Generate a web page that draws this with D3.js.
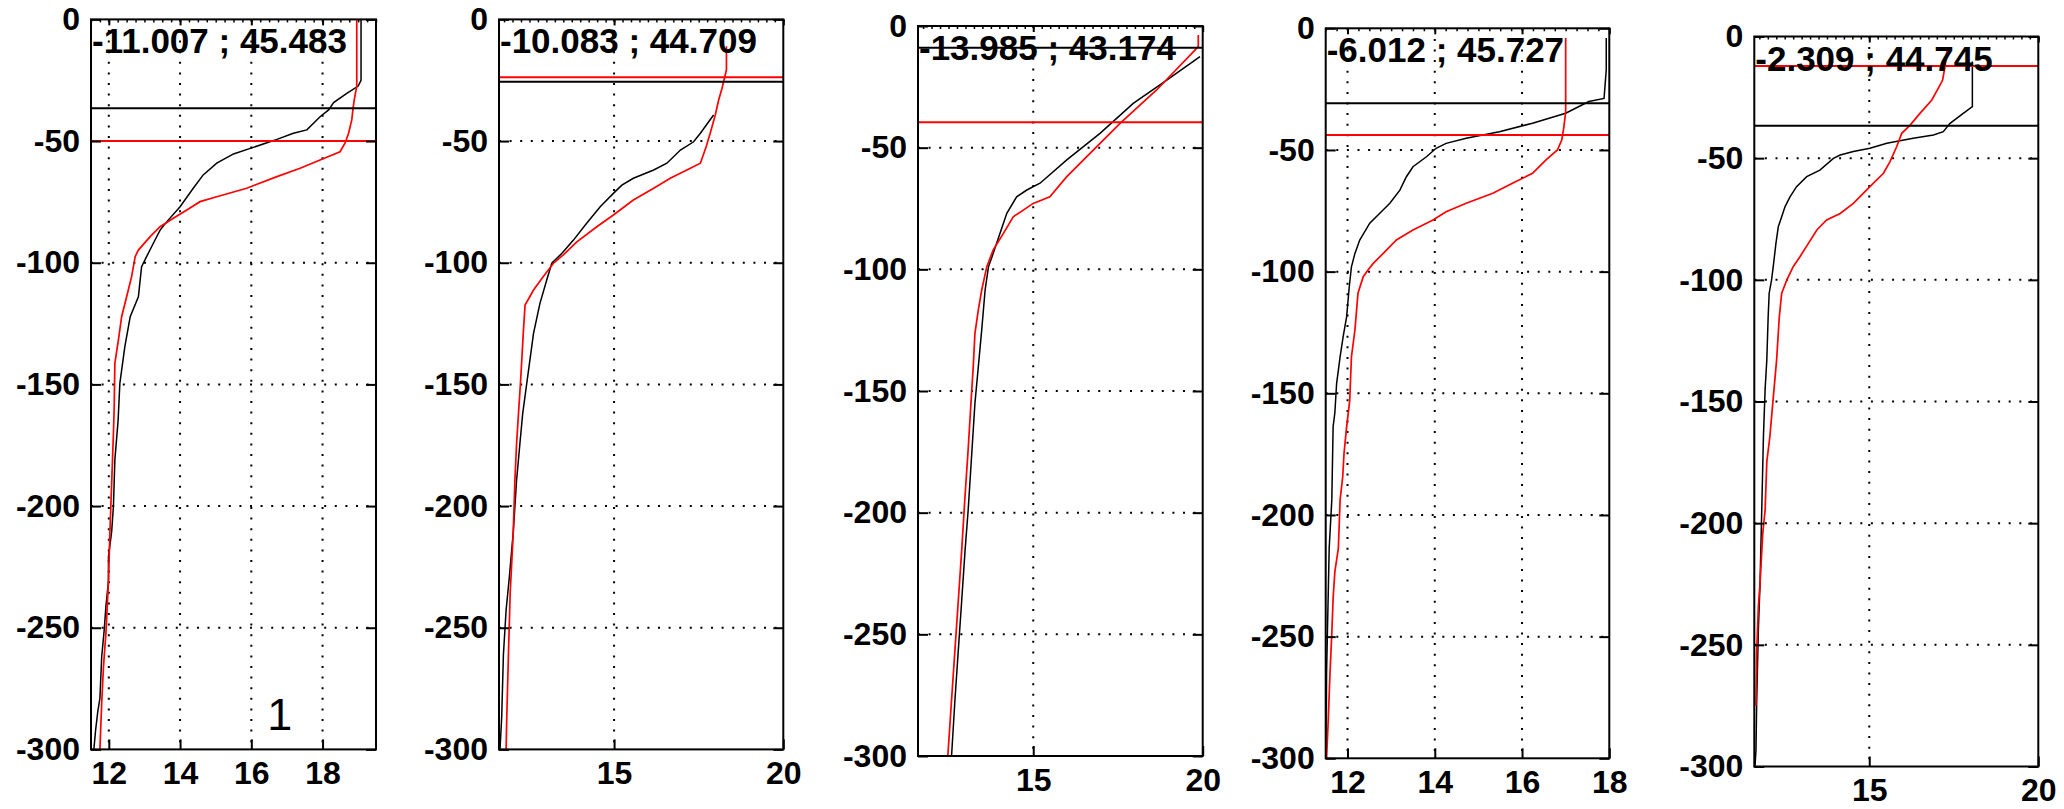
<!DOCTYPE html>
<html>
<head>
<meta charset="utf-8">
<script src="https://cdn.jsdelivr.net/npm/d3@7"></script>
<style>
  html, body { margin: 0; padding: 0; background: #fff; }
  svg { display: block; }
</style>
</head>
<body>
<svg id="chart" width="2064" height="809"></svg>
<script>
// ---------------- DATA ----------------
const labels = ["-11.007 ; 45.483", "-10.083 ; 44.709", "-13.985 ; 43.174", "-6.012 ; 45.727", "-2.309 ; 44.745"];
const xDomains = [[11.5, 19.5], [11.6, 20], [11.6, 20], [11.5, 18], [11.6, 20]];
const xTicks = [[12, 14, 16, 18], [15, 20], [15, 20], [12, 14, 16, 18], [15, 20]];
const yTicks = [0, -50, -100, -150, -200, -250, -300];
const mldBlack = [-36.5, -25.6, -8.9, -30.8, -36.7];
const mldRed = [-50, -23.8, -39.6, -43.8, -12.1];

// temperature, depth
const p1Black = [[19.08,0],[19.08,-25],[19.0,-27.4],[18.68,-30.4],[18.31,-34.2],[18.17,-37.2],[17.93,-40],[17.56,-45.4],[17.18,-46.8],[16.72,-49.3],[16.44,-50.7],[15.97,-53],[15.5,-55.3],[15.03,-59.1],[14.65,-63.9],[14.37,-69.4],[14.0,-77],[13.63,-83.1],[13.44,-86.6],[13.25,-92],[13.06,-97.5],[12.92,-101.6],[12.83,-114],[12.6,-122.2],[12.45,-134.5],[12.31,-149.6],[12.26,-165],[12.17,-181],[12.13,-200],[12.08,-210.5],[11.99,-220.8],[11.99,-231],[11.92,-241],[11.87,-251],[11.80,-262],[11.75,-279],[11.69,-284.5],[11.63,-292],[11.58,-300]];
const p1Red = [[18.96,0],[18.96,-27.4],[18.89,-33],[18.85,-37.2],[18.82,-41.3],[18.73,-46.8],[18.63,-50.9],[18.49,-54.4],[17.93,-57.8],[17.37,-61.2],[16.72,-64.6],[15.87,-69.4],[15.03,-72.9],[14.56,-74.9],[14.19,-78.3],[13.81,-81.7],[13.44,-85.2],[13.16,-89.3],[12.83,-94.8],[12.74,-97.5],[12.64,-105.7],[12.5,-114],[12.36,-122.2],[12.27,-131.7],[12.17,-141.3],[12.15,-160],[12.13,-170],[12.08,-190.6],[12.03,-211],[11.99,-231],[11.92,-252],[11.85,-266],[11.8,-281],[11.75,-300]];
const p2Black = [[17.94,-39.3],[17.55,-46.8],[17.35,-50.3],[16.96,-53.7],[16.56,-59.1],[16.17,-61.9],[15.57,-65.3],[15.23,-68.1],[14.98,-71.5],[14.59,-77],[14.19,-83.8],[13.8,-90.7],[13.46,-96.1],[13.16,-100.2],[13.01,-107.1],[12.81,-116.7],[12.62,-129],[12.42,-149.6],[12.3,-162],[12.22,-174],[12.12,-189.3],[12.02,-211],[11.9,-230],[11.81,-242.7],[11.73,-261.2],[11.68,-286.6],[11.63,-300]];
const p2Red = [[18.32,-11],[18.32,-20.8],[18.19,-28.3],[18.09,-33.1],[17.99,-39.3],[17.84,-46.8],[17.72,-52.3],[17.55,-59.1],[17.15,-61.9],[16.66,-65.3],[16.17,-69.4],[15.57,-74.2],[14.98,-80.4],[14.49,-85.2],[13.9,-91.4],[13.5,-96.8],[13.21,-100.2],[12.91,-105.7],[12.62,-111.2],[12.37,-117.4],[12.32,-128.3],[12.24,-148.2],[12.17,-163.3],[12.12,-174.2],[12.07,-189.3],[12.02,-211.2],[11.98,-222.2],[11.93,-235.9],[11.88,-260.5],[11.83,-286.6],[11.81,-300]];
const p3Black = [[19.92,-12.6],[18.94,-22.2],[17.95,-31.8],[16.97,-44.1],[15.99,-55],[15.2,-64.6],[14.81,-67.4],[14.51,-70.2],[14.22,-77],[14.02,-85.2],[13.82,-93.4],[13.68,-98.9],[13.58,-108.5],[13.48,-124.9],[13.38,-140],[13.28,-155],[13.18,-177],[13.08,-199],[12.99,-215.3],[12.89,-236],[12.79,-256.4],[12.69,-277],[12.59,-300]];
const p3Red = [[19.87,-3.7],[19.87,-8.5],[18.64,-26.3],[17.56,-40],[16.97,-48.2],[15.99,-61.9],[15.49,-70.2],[15.0,-72.9],[14.41,-78.4],[14.12,-85.2],[13.82,-92],[13.63,-98.9],[13.48,-108.5],[13.38,-116.7],[13.28,-126.3],[13.23,-140],[13.18,-151],[13.08,-174],[12.98,-194.8],[12.89,-215.3],[12.79,-236],[12.69,-256.4],[12.59,-277],[12.48,-300]];
const p4Black = [[17.93,-4],[17.93,-17.1],[17.88,-28.8],[17.53,-30.1],[17.0,-34.9],[16.24,-39],[15.48,-42.5],[14.72,-45.2],[14.26,-47.3],[14.03,-49.3],[13.81,-52.8],[13.5,-56.9],[13.35,-61],[13.2,-66.5],[12.97,-71.9],[12.74,-76],[12.51,-80.1],[12.28,-87],[12.17,-92.5],[12.09,-98],[12.04,-106.2],[11.98,-118.5],[11.9,-126.7],[11.83,-135],[11.75,-146],[11.71,-158],[11.67,-163.7],[11.64,-193.8],[11.58,-213.7],[11.52,-265],[11.51,-300]];
const p4Red = [[17.0,-4],[17.0,-34.3],[16.96,-40.4],[16.91,-45.9],[16.81,-50],[16.55,-54.1],[16.24,-59.6],[15.86,-63],[15.33,-67.8],[14.72,-71.9],[14.26,-75.4],[13.96,-78.8],[13.5,-82.9],[13.12,-87],[12.82,-92.5],[12.59,-96.6],[12.47,-99.3],[12.36,-102.1],[12.24,-108.9],[12.17,-124],[12.09,-135],[12.05,-153],[11.98,-163.7],[11.92,-174.7],[11.89,-184.3],[11.83,-193.8],[11.79,-213.7],[11.71,-223.3],[11.67,-234.2],[11.64,-248.6],[11.6,-264.4],[11.56,-283.6],[11.52,-300]];
const p5Black = [[18.05,-10.3],[18.05,-28.8],[17.78,-31.6],[17.39,-35.7],[17.19,-39.1],[16.9,-40.5],[16.3,-41.8],[15.52,-43.9],[15.02,-45.9],[14.53,-47.3],[14.14,-48.7],[13.94,-50.1],[13.54,-54.9],[13.15,-57.6],[12.85,-61.7],[12.66,-65.8],[12.51,-69.9],[12.41,-74.1],[12.31,-78.2],[12.24,-85],[12.16,-94.6],[12.11,-100.1],[12.04,-105.5],[12.01,-115.2],[11.97,-132.9],[11.92,-145],[11.87,-164.5],[11.82,-194.6],[11.77,-224.7],[11.72,-243.9],[11.67,-274],[11.65,-293.2],[11.62,-300]];
const p5Red = [[17.3,-5.5],[17.24,-12.4],[17.17,-17.9],[17.04,-21.3],[16.85,-26.1],[16.5,-31.6],[16.21,-36.4],[15.96,-39.8],[15.81,-45.3],[15.61,-51.5],[15.42,-56.2],[15.02,-61.7],[14.53,-68.6],[14.14,-72.7],[13.74,-75.4],[13.45,-79.5],[13.2,-85],[12.95,-90.5],[12.75,-94.6],[12.56,-100.1],[12.41,-105.5],[12.34,-115.2],[12.26,-132.9],[12.17,-147],[12.06,-164.5],[11.97,-174.7],[11.92,-194.6],[11.85,-204.2],[11.77,-224.7],[11.72,-234.3],[11.67,-253.5],[11.65,-275]];

const blackSeries = [p1Black, p2Black, p3Black, p4Black, p5Black];
const redSeries = [p1Red, p2Red, p3Red, p4Red, p5Red];
const panelNote = {panel: 0, text: "1", t: 16.8, d: -292};

// ---------------- LAYOUT ----------------
const layout = [
  {L: 91,     R: 376,    T: 19.4, B: 749.4},
  {L: 499,    R: 783.3,  T: 19.4, B: 749.4},
  {L: 918,    R: 1202.7, T: 26,   B: 756},
  {L: 1325.7, R: 1609.3, T: 28.3, B: 758.3},
  {L: 1754.3, R: 2038.3, T: 36.5, B: 766.5}
];

const FONT = "'Liberation Sans', Arial, Helvetica, sans-serif";
const fmt = d => String(d);   // plain hyphen-minus like the original
const svg = d3.select("#chart");

layout.forEach((p, i) => {
  const x = d3.scaleLinear().domain(xDomains[i]).range([p.L, p.R]);
  const y = d3.scaleLinear().domain([-300, 0]).range([p.B, p.T]);
  const g = svg.append("g");

  // grid (dotted)
  const [x0, x1] = xDomains[i];
  g.selectAll(".hgrid").data(yTicks.filter(t => t > -300 && t < 0)).enter()
    .append("line")
    .attr("x1", p.L).attr("x2", p.R)
    .attr("y1", d => y(d)).attr("y2", d => y(d))
    .attr("stroke", "#000").attr("stroke-width", 2)
    .attr("stroke-dasharray", "2 8.6");
  g.selectAll(".vgrid").data(xTicks[i].filter(t => t > x0 && t < x1)).enter()
    .append("line")
    .attr("x1", d => x(d)).attr("x2", d => x(d))
    .attr("y1", p.T).attr("y2", p.B)
    .attr("stroke", "#000").attr("stroke-width", 2)
    .attr("stroke-dasharray", "2 8.6");

  const line = d3.line().x(d => x(d[0])).y(d => y(d[1]));

  // profiles
  g.append("path").datum(blackSeries[i]).attr("d", line)
    .attr("fill", "none").attr("stroke", "#000").attr("stroke-width", 1.5);
  g.append("path").datum(redSeries[i]).attr("d", line)
    .attr("fill", "none").attr("stroke", "#ff0000").attr("stroke-width", 1.7);

  // mixed-layer lines
  g.append("line").attr("x1", p.L).attr("x2", p.R)
    .attr("y1", y(mldBlack[i])).attr("y2", y(mldBlack[i]))
    .attr("stroke", "#000").attr("stroke-width", 2);
  g.append("line").attr("x1", p.L).attr("x2", p.R)
    .attr("y1", y(mldRed[i])).attr("y2", y(mldRed[i]))
    .attr("stroke", "#ff0000").attr("stroke-width", 2);

  // title label inside box
  g.append("text")
    .attr("x", p.L + 1).attr("y", y(0) + 34)
    .attr("font-family", FONT).attr("font-size", 35).attr("font-weight", "bold")
    .attr("fill", "#000")
    .text(labels[i]);

  if (panelNote.panel === i) {
    g.append("text")
      .attr("x", x(panelNote.t)).attr("y", y(panelNote.d))
      .attr("text-anchor", "middle")
      .attr("font-family", FONT).attr("font-size", 45)
      .attr("fill", "#000")
      .text(panelNote.text);
  }

  // axes
  const styleAxis = sel => {
    sel.select(".domain").remove();
    sel.selectAll(".tick line").attr("stroke", "#000").attr("stroke-width", 2);
    sel.selectAll("text").attr("font-family", FONT).attr("font-size", 32)
      .attr("font-weight", "bold").attr("fill", "#000");
  };
  g.append("g").attr("transform", `translate(${p.L},0)`)
    .call(d3.axisLeft(y).tickValues(yTicks).tickSize(-10).tickPadding(11).tickFormat(fmt))
    .call(styleAxis);
  g.append("g").attr("transform", `translate(${p.R},0)`)
    .call(d3.axisRight(y).tickValues(yTicks).tickSize(-10).tickFormat(""))
    .call(styleAxis);
  g.append("g").attr("transform", `translate(0,${p.B})`)
    .call(d3.axisBottom(x).tickValues(xTicks[i]).tickSize(-10).tickPadding(12).tickFormat(fmt))
    .call(styleAxis);
  g.append("g").attr("transform", `translate(0,${p.T})`)
    .call(d3.axisTop(x).tickValues(xTicks[i]).tickSize(-6).tickFormat(""))
    .call(styleAxis);
  const minor = d3.range(Math.ceil(x0 * 4) / 4, x1 + 1e-9, 0.25);
  g.append("g").attr("transform", `translate(0,${p.T})`)
    .call(d3.axisTop(x).tickValues(minor).tickSize(-3).tickFormat(""))
    .call(sel => { sel.select(".domain").remove(); sel.selectAll(".tick line").attr("stroke", "#000").attr("stroke-width", 1.5); });

  // box
  g.append("rect").attr("x", p.L).attr("y", p.T)
    .attr("width", p.R - p.L).attr("height", p.B - p.T)
    .attr("fill", "none").attr("stroke", "#000").attr("stroke-width", 2);
});
</script>
</body>
</html>
